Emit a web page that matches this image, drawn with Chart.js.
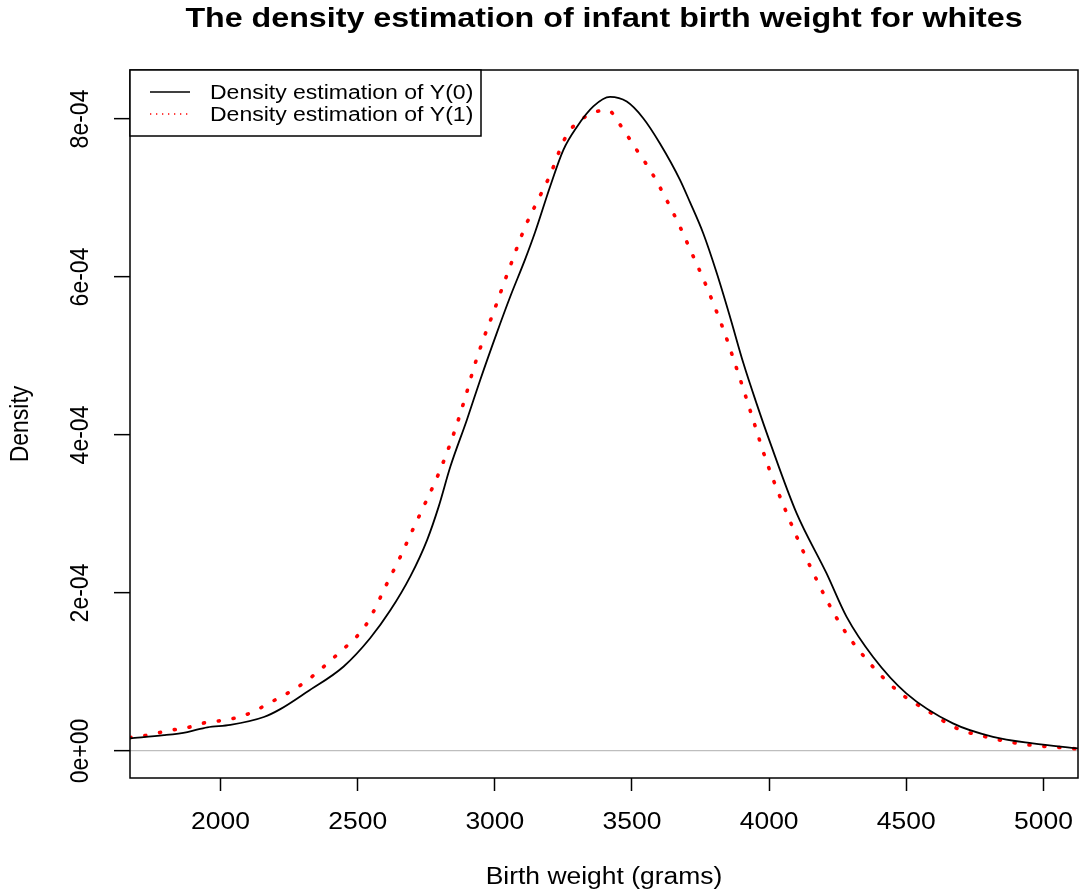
<!DOCTYPE html>
<html>
<head>
<meta charset="utf-8">
<script src="https://cdn.jsdelivr.net/npm/chart.js@4.4.1/dist/chart.umd.min.js"></script>
<style>
  html, body { margin: 0; padding: 0; background: #fff; }
  canvas { display: block; }
</style>
</head>
<body>
<canvas id="chart" width="1080" height="890"></canvas>
<script>
// birth weight (grams) and density
const weightY0 = [1670, 1794, 1879, 1952, 2036, 2158, 2218, 2316, 2449, 2546, 2619, 2692, 2753, 2795, 2838, 2898, 2947, 3007, 3056, 3110, 3147, 3201, 3250, 3299, 3359, 3420, 3481, 3541, 3602, 3675, 3711, 3760, 3809, 3857, 3906, 3954, 4005, 4100, 4209, 4282, 4379, 4500, 4670, 4816, 4961, 5126];
const densityY0 = [1.6e-5, 2.0e-5, 2.4e-5, 3.0e-5, 3.3e-5, 4.3e-5, 5.3e-5, 7.5e-5, 1.07e-4, 1.43e-4, 1.78e-4, 2.21e-4, 2.67e-4, 3.09e-4, 3.60e-4, 4.19e-4, 4.70e-4, 5.29e-4, 5.75e-4, 6.22e-4, 6.57e-4, 7.14e-4, 7.61e-4, 7.90e-4, 8.16e-4, 8.28e-4, 8.22e-4, 8.01e-4, 7.69e-4, 7.23e-4, 6.95e-4, 6.55e-4, 6.05e-4, 5.50e-4, 4.91e-4, 4.40e-4, 3.89e-4, 3.01e-4, 2.25e-4, 1.70e-4, 1.19e-4, 7.3e-5, 3.5e-5, 1.8e-5, 9.7e-6, 3.2e-6];

const weightY1 = [1670, 1750, 1811, 1873, 1933, 1994, 2057, 2115, 2169, 2222, 2273, 2322, 2367, 2409, 2454, 2497, 2531, 2557, 2604, 2653, 2698, 2744, 2789, 2829, 2864, 2896, 2926, 2960, 2998, 3034, 3052, 3110, 3161, 3204, 3243, 3268, 3307, 3358, 3414, 3450, 3511, 3572, 3624, 3673, 3717, 3762, 3803, 3841, 3875, 3908, 3941, 3990, 4069, 4156, 4257, 4357, 4479, 4577, 4682, 4801, 4922, 5126];
const densityY1 = [1.7e-5, 2.1e-5, 2.6e-5, 2.9e-5, 3.5e-5, 3.8e-5, 4.2e-5, 4.9e-5, 5.9e-5, 6.9e-5, 7.9e-5, 9.1e-5, 1.04e-4, 1.17e-4, 1.31e-4, 1.45e-4, 1.60e-4, 1.76e-4, 2.10e-4, 2.44e-4, 2.78e-4, 3.12e-4, 3.46e-4, 3.81e-4, 4.16e-4, 4.52e-4, 4.88e-4, 5.23e-4, 5.58e-4, 5.93e-4, 6.10e-4, 6.63e-4, 7.00e-4, 7.31e-4, 7.66e-4, 7.83e-4, 7.97e-4, 8.08e-4, 8.11e-4, 7.96e-4, 7.64e-4, 7.32e-4, 6.99e-4, 6.65e-4, 6.31e-4, 5.96e-4, 5.61e-4, 5.26e-4, 4.91e-4, 4.56e-4, 4.20e-4, 3.67e-4, 2.97e-4, 2.29e-4, 1.62e-4, 1.15e-4, 7.3e-5, 5.1e-5, 2.9e-5, 1.7e-5, 8.9e-6, 2.5e-6];

const xTicks = [2000, 2500, 3000, 3500, 4000, 4500, 5000];
const yTicks = [0, 2e-4, 4e-4, 6e-4, 8e-4];
const yTickLabels = ['0e+00', '2e-04', '4e-04', '6e-04', '8e-04'];
const legendLabels = ['Density estimation of Y(0)', 'Density estimation of Y(1)'];

const FONT = '"Liberation Sans", Arial, Helvetica, sans-serif';
const SX = 1.15; // the original picture is stretched sideways a little

function putText(ctx, text, x, y, font, align, rotated) {
  ctx.save();
  ctx.translate(x, y);
  if (rotated) {
    ctx.rotate(-Math.PI / 2);
    ctx.scale(1, SX);
  } else {
    ctx.scale(SX, 1);
  }
  ctx.font = font;
  ctx.fillStyle = '#000';
  ctx.textAlign = align;
  ctx.textBaseline = 'alphabetic';
  ctx.fillText(text, 0, 0);
  ctx.restore();
}

const rDecor = {
  id: 'rDecor',
  beforeDraw(chart) {
    const ctx = chart.ctx;
    ctx.save();
    ctx.fillStyle = '#fff';
    ctx.fillRect(0, 0, chart.width, chart.height);
    ctx.restore();
  },
  afterDraw(chart) {
    const ctx = chart.ctx;
    const a = chart.chartArea;
    const xs = chart.scales.x, ys = chart.scales.y;
    const midX = (a.left + a.right) / 2;

    // box
    ctx.save();
    ctx.strokeStyle = '#000';
    ctx.lineWidth = 1.5;
    ctx.strokeRect(a.left, a.top, a.right - a.left, a.bottom - a.top);
    ctx.restore();

    // title and axis titles
    putText(ctx, 'The density estimation of infant birth weight for whites', midX, 27, 'bold 28px ' + FONT, 'center');
    putText(ctx, 'Birth weight (grams)', midX, 884, '23px ' + FONT, 'center');
    putText(ctx, 'Density', 28, (a.top + a.bottom) / 2, '23px ' + FONT, 'center', true);

    // tick labels
    xTicks.forEach(v => putText(ctx, String(v), xs.getPixelForValue(v), 829, '23px ' + FONT, 'center'));
    yTicks.forEach((v, i) => putText(ctx, yTickLabels[i], 88, ys.getPixelForValue(v), '23px ' + FONT, 'center', true));

    // legend in the top left corner
    const lx = a.left, ly = a.top, lw = 351, lh = 66;
    ctx.save();
    ctx.fillStyle = '#fff';
    ctx.fillRect(lx, ly, lw, lh);
    ctx.strokeStyle = '#000';
    ctx.lineWidth = 1.5;
    ctx.strokeRect(lx, ly, lw, lh);
    ctx.lineWidth = 1.3;
    ctx.beginPath();
    ctx.moveTo(lx + 20, ly + 22);
    ctx.lineTo(lx + 60, ly + 22);
    ctx.stroke();
    ctx.strokeStyle = '#ff0000';
    ctx.setLineDash([1.3, 4.7]);
    ctx.beginPath();
    ctx.moveTo(lx + 20, ly + 44);
    ctx.lineTo(lx + 60, ly + 44);
    ctx.stroke();
    ctx.restore();
    putText(ctx, legendLabels[0], lx + 80, ly + 29, '20px ' + FONT, 'left');
    putText(ctx, legendLabels[1], lx + 80, ly + 51, '20px ' + FONT, 'left');
  }
};

new Chart(document.getElementById('chart'), {
  type: 'line',
  data: {
    datasets: [
      {
        label: legendLabels[0],
        data: weightY0.map((w, i) => ({ x: w, y: densityY0[i] })),
        borderColor: '#000',
        borderWidth: 1.8,
        pointRadius: 0,
        cubicInterpolationMode: 'monotone',
        fill: false
      },
      {
        label: legendLabels[1],
        data: weightY1.map((w, i) => ({ x: w, y: densityY1[i] })),
        borderColor: '#ff0000',
        borderWidth: 3.6,
        borderDash: [1, 14],
        borderCapStyle: 'round',
        pointRadius: 0,
        cubicInterpolationMode: 'monotone',
        fill: false
      }
    ]
  },
  options: {
    responsive: false,
    animation: false,
    devicePixelRatio: 1,
    layout: { padding: { top: 70, right: 2, left: 0, bottom: 0 } },
    plugins: {
      legend: { display: false },
      title: { display: false },
      tooltip: { enabled: false }
    },
    scales: {
      x: {
        type: 'linear',
        min: 1670,
        max: 5126,
        afterBuildTicks: s => { s.ticks = xTicks.map(v => ({ value: v })); },
        afterFit: s => { s.height = 112; },
        ticks: { display: false },
        border: { display: false },
        grid: { drawOnChartArea: false, drawTicks: true, tickLength: 13, color: '#000', tickWidth: 1.5 }
      },
      y: {
        type: 'linear',
        min: -3.42e-5,
        max: 8.62e-4,
        afterBuildTicks: s => { s.ticks = yTicks.map(v => ({ value: v })); },
        afterFit: s => { s.width = 130; },
        ticks: { display: false },
        border: { display: false },
        grid: {
          drawOnChartArea: true,
          drawTicks: true,
          tickLength: 16,
          tickColor: '#000',
          tickWidth: 1.5,
          lineWidth: 1.3,
          color: c => (c.tick && c.tick.value === 0 ? '#bebebe' : 'rgba(0,0,0,0)')
        }
      }
    }
  },
  plugins: [rDecor]
});
</script>
</body>
</html>
